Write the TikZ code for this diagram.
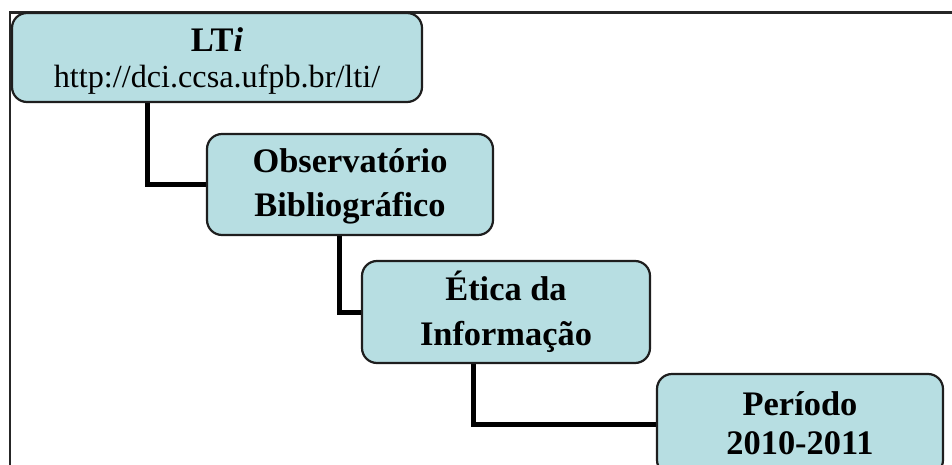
\documentclass[tikz,border=0pt]{standalone}
\usepackage{fontspec}
\setmainfont{Liberation Serif}
\usetikzlibrary{calc,backgrounds}
\definecolor{boxfill}{RGB}{183,222,226}
\definecolor{boxline}{RGB}{30,30,30}
\newcommand\twolines[3]{\vtop{\baselineskip=#1\halign{\hfil##\hfil\cr #2\cr #3\cr}}}
\begin{document}
\begin{tikzpicture}[x=0.5pt,y=-0.5pt,
  box/.style={draw=boxline, line width=1.1pt, fill=boxfill, rounded corners=7.5pt,
    inner sep=0pt, outer sep=0pt, font=\fontsize{17.2}{20}\selectfont\bfseries},
  conn/.style={line width=2.5pt, black},
  frameline/.style={line width=1.2pt, black!85}]
\useasboundingbox (0,0) rectangle (952,465);
\clip (0,0) rectangle (952,465);
\draw[frameline] (952,12.5) -- (10,12.5) -- (10,465);
\node[box, minimum width=205pt, minimum height=44.5pt, text height=19.35pt, text depth=25.15pt]
  (lti) at (217,57.5) {\twolines{18pt}{LT\textit{i}}{\fontsize{16.1}{18}\selectfont\mdseries http://dci.ccsa.ufpb.br/lti/}};
\node[box, minimum width=143pt, minimum height=50.5pt, text height=19.15pt, text depth=31.35pt]
  (obs) at (350,184.5) {\twolines{22.2pt}{Observatório}{Bibliográfico}};
\node[box, minimum width=144pt, minimum height=51pt, text height=19.5pt, text depth=31.5pt]
  (etica) at (506,312) {\twolines{22.5pt}{Ética da}{Informação}};
\node[box, minimum width=143pt, minimum height=50.5pt, text height=20.5pt, text depth=30pt]
  (per) at (800,424.5) {\twolines{19.5pt}{Período}{2010-2011}};
\begin{scope}[on background layer]
\draw[conn] ($(lti.south west)+(135,0)$) |- (obs.west);
\draw[conn] ($(obs.south west)+(132,0)$) |- (etica.west);
\draw[conn] ($(etica.south west)+(111,0)$) |- (per.west);
\end{scope}
\end{tikzpicture}
\end{document}
